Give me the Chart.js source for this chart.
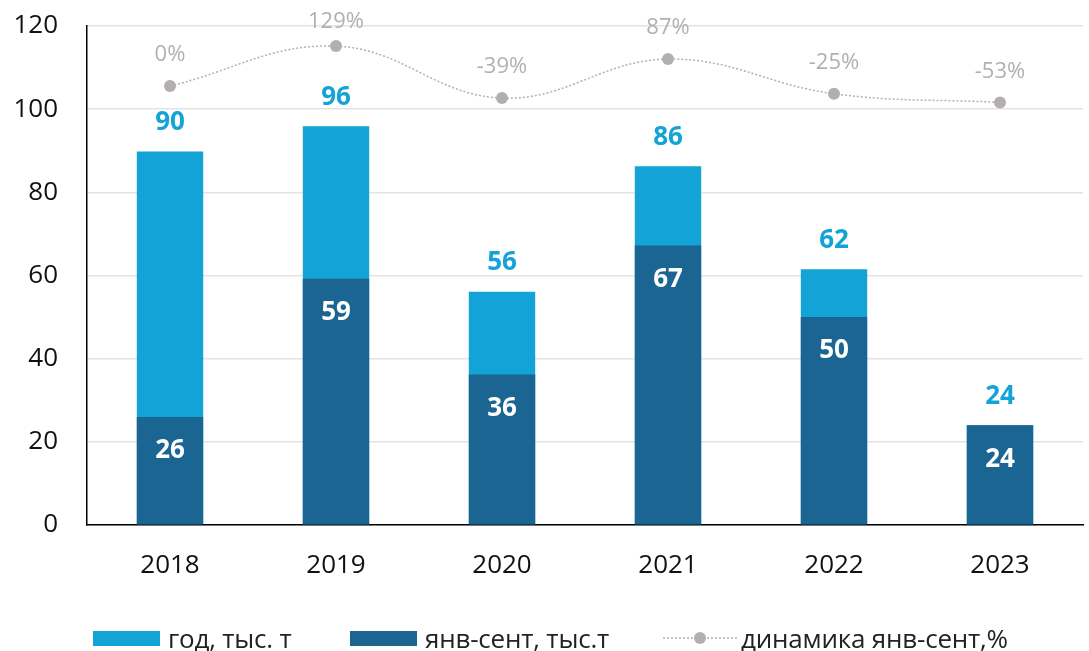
<!DOCTYPE html>
<html>
<head>
<meta charset="utf-8">
<script src="https://cdn.jsdelivr.net/npm/chart.js@4"></script>
<style>
  body { margin: 0; background: #fff; font-family: 'Open Sans', sans-serif; }
  #wrap { position: relative; width: 1089px; height: 651px; }
  #legend { position: absolute; left: 0; top: 622px; width: 1089px; height: 32px; font-size: 26px; color: #222; letter-spacing: -0.2px; }
  .item { position: absolute; top: 0; display: flex; align-items: center; height: 32px; }
  .box { width: 67px; height: 15px; margin-right: 8px; }
</style>
</head>
<body>
<div id="wrap">
  <canvas id="myChart" width="1089" height="651"></canvas>
  <div id="legend">
    <div class="item" style="left:93px"><span class="box" style="background:#14a3d6"></span>год, тыс. т</div>
    <div class="item" style="left:350px"><span class="box" style="background:#1a6591"></span>янв-сент, тыс.т</div>
    <div class="item" style="left:663px">
      <svg width="74" height="16" style="margin-right:4px"><line x1="0" y1="8" x2="74" y2="8" stroke="#b3afaf" stroke-width="1.5" stroke-dasharray="2,2"/><circle cx="37" cy="8" r="6" fill="#b3afaf"/></svg>динамика янв-сент,%
    </div>
  </div>
</div>
<script>
const years = ['2018', '2019', '2020', '2021', '2022', '2023'];
const yearTotal = [89.8, 95.9, 56.1, 86.3, 61.5, 24.0];
const janSep = [26.0, 59.2, 36.2, 67.2, 50.0, 24.0];
const dynamics = [0, 129, -39, 87, -25, -53];
const yTicks = [0, 20, 40, 60, 80, 100, 120];

const LIGHT = '#14a3d6';
const DARK = '#1a6591';
const GREY = '#b3afaf';

const labelPlugin = {
  id: 'valueLabels',
  afterDatasetsDraw(chart) {
    const ctx = chart.ctx;
    ctx.save();
    ctx.textAlign = 'center';
    ctx.textBaseline = 'middle';

    chart.getDatasetMeta(0).data.forEach((bar, i) => {
      ctx.font = 'bold 26px "Open Sans"';
      ctx.fillStyle = LIGHT;
      ctx.fillText(Math.round(yearTotal[i]), bar.x, bar.y - 29);
    });
    chart.getDatasetMeta(1).data.forEach((bar, i) => {
      ctx.font = 'bold 26px "Open Sans"';
      ctx.fillStyle = '#fff';
      ctx.fillText(Math.round(janSep[i]), bar.x, bar.y + 34);
    });
    chart.getDatasetMeta(2).data.forEach((pt, i) => {
      ctx.font = '22px "Open Sans"';
      ctx.fillStyle = GREY;
      ctx.fillText(dynamics[i] + '%', pt.x, Math.max(pt.y - 31, 22));
    });
    ctx.restore();
  }
};

const ctx = document.getElementById('myChart').getContext('2d');
new Chart(ctx, {
  data: {
    labels: years,
    datasets: [
      {
        type: 'bar',
        label: 'год, тыс. т',
        data: yearTotal,
        backgroundColor: LIGHT,
        grouped: false,
        barPercentage: 0.4,
        categoryPercentage: 1.0,
        order: 3,
      },
      {
        type: 'bar',
        label: 'янв-сент, тыс.т',
        data: janSep,
        backgroundColor: DARK,
        grouped: false,
        barPercentage: 0.4,
        categoryPercentage: 1.0,
        order: 2,
      },
      {
        type: 'line',
        label: 'динамика янв-сент,%',
        data: dynamics,
        yAxisID: 'y2',
        borderColor: GREY,
        borderWidth: 1.5,
        borderDash: [2, 2],
        tension: 0.4,
        pointRadius: 6,
        pointBackgroundColor: GREY,
        pointBorderWidth: 0,
        order: 1,
      },
    ],
  },
  options: {
    responsive: false,
    animation: false,
    layout: { padding: { top: 26, right: 0, bottom: 0, left: 0 } },
    plugins: {
      legend: { display: false },
      tooltip: { enabled: false },
    },
    scales: {
      x: {
        grid: { display: false, drawTicks: false },
        border: { color: '#000', width: 1.5 },
        ticks: { color: '#111', font: { family: 'Open Sans', size: 26 }, padding: 25 },
        afterFit: (scale) => { scale.height = 126; scale.paddingLeft = 0; scale.paddingRight = 0; },
      },
      y: {
        min: 0,
        max: 120,
        afterBuildTicks: (scale) => { scale.ticks = yTicks.map(v => ({ value: v })); },
        grid: { color: '#e3e3e3', lineWidth: 1.5, drawTicks: false },
        border: { color: '#000', width: 1.5 },
        ticks: { color: '#111', font: { family: 'Open Sans', size: 26 }, padding: 29 },
        afterFit: (scale) => { scale.width = 87; scale.paddingTop = 0; scale.paddingBottom = 0; },
      },
      y2: {
        display: false,
        min: -1419,
        max: 194,
      },
    },
  },
  plugins: [labelPlugin],
});
</script>
</body>
</html>
